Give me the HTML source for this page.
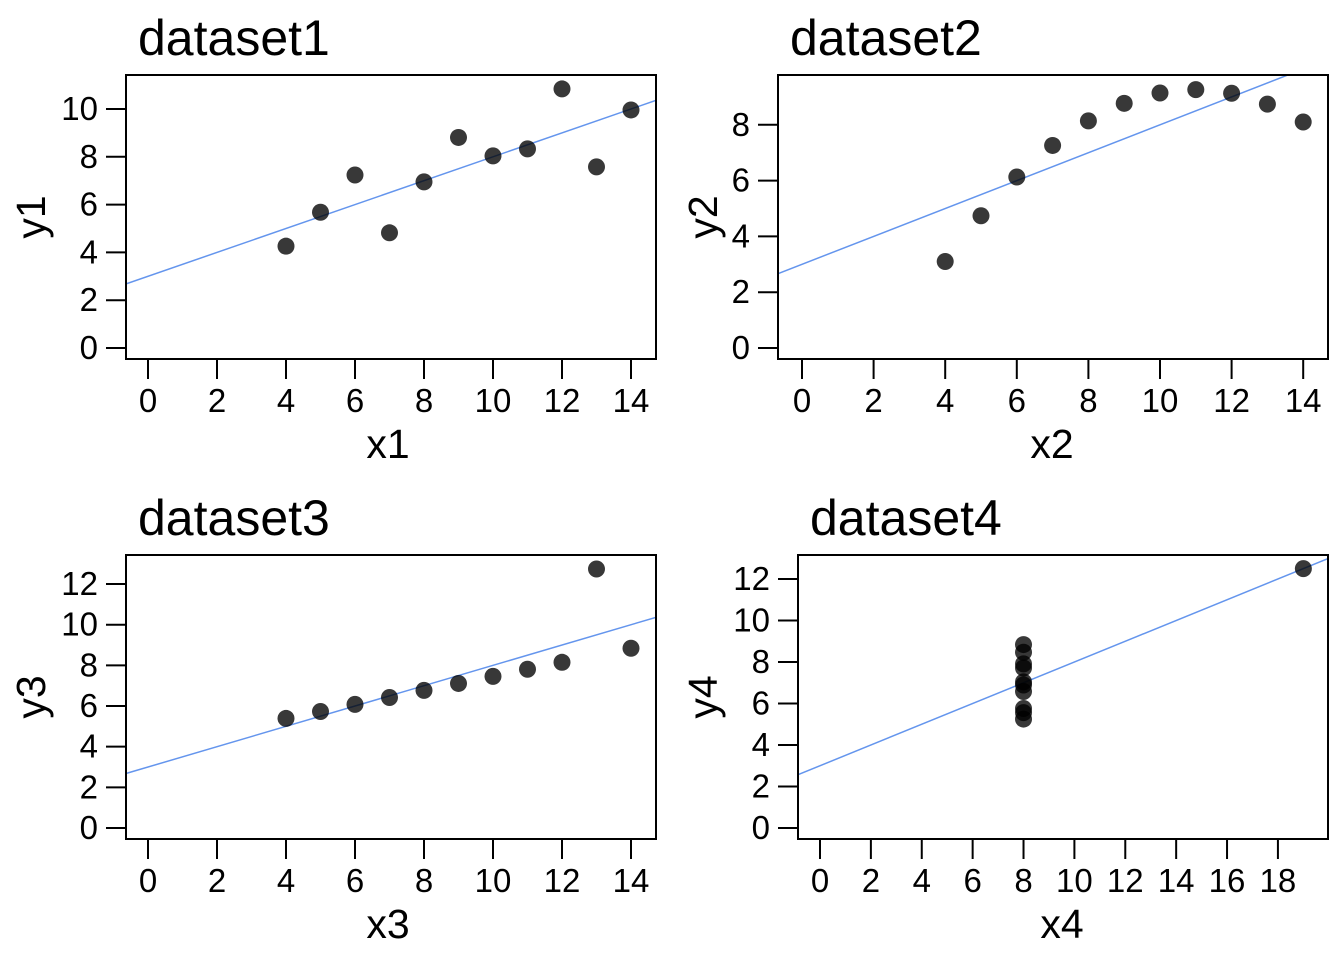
<!DOCTYPE html>
<html><head><meta charset="utf-8"><style>
body{margin:0;background:#fff;}
svg text{font-family:"Liberation Sans",Arial,sans-serif;fill:#000;}
</style></head><body>
<svg id="c" width="1344" height="960" xmlns="http://www.w3.org/2000/svg"></svg>
<script>
const xs123 = [10,8,13,9,11,14,6,4,12,7,5];
const y1 = [8.04,6.95,7.58,8.81,8.33,9.96,7.24,4.26,10.84,4.82,5.68];
const y2 = [9.14,8.14,8.74,8.77,9.26,8.10,6.13,3.10,9.13,7.26,4.74];
const y3 = [7.46,6.77,12.74,7.11,7.81,8.84,6.08,5.39,8.15,6.42,5.73];
const x4 = [8,8,8,8,8,8,8,19,8,8,8];
const y4 = [6.58,5.76,7.71,8.84,8.47,7.04,5.25,12.50,5.56,7.91,6.89];
const xticks14 = [0,2,4,6,8,10,12,14];
const xticks18 = [0,2,4,6,8,10,12,14,16,18];
const yticks10 = [0,2,4,6,8,10];
const yticks8 = [0,2,4,6,8];
const yticks12 = [0,2,4,6,8,10,12];
const fitA = 3.0, fitB = 0.5;

const svg = document.getElementById('c');
const NS = 'http://www.w3.org/2000/svg';
function mk(tag, attrs, parent){const e=document.createElementNS(NS,tag);for(const k in attrs)e.setAttribute(k,attrs[k]);(parent||svg).appendChild(e);return e;}

const panels = [
 {n:1,title:'dataset1',xl:'x1',yl:'y1',xs:xs123,ys:y1,xt:xticks14,yt:yticks10,box:[126,75,656,359],x0:148,xu:34.5,y0:348,yu:23.9,tx:138,lx:388,ly:45},
 {n:2,title:'dataset2',xl:'x2',yl:'y2',xs:xs123,ys:y2,xt:xticks14,yt:yticks8,box:[778,75,1328,359],x0:802,xu:35.8,y0:348,yu:27.9,tx:790,lx:1052,ly:717},
 {n:3,title:'dataset3',xl:'x3',yl:'y3',xs:xs123,ys:y3,xt:xticks14,yt:yticks12,box:[126,555,656,839],x0:148,xu:34.5,y0:828,yu:20.33,tx:138,lx:388,ly:45},
 {n:4,title:'dataset4',xl:'x4',yl:'y4',xs:x4,ys:y4,xt:xticks18,yt:yticks12,box:[798,555,1328,839],x0:820,xu:25.44,y0:828,yu:20.75,tx:810,lx:1062,ly:717}
];

panels.forEach(p=>{
  const g = mk('g',{});
  
  
  const [L,T,R,B]=p.box;
  const sx=v=>p.x0+v*p.xu, sy=v=>p.y0-v*p.yu;
  const t=mk('text',{x:p.tx,y:T-20,'font-size':50},g); t.textContent=p.title;
   
  const cid='clip'+p.n;
  const cp=mk('clipPath',{id:cid},g); mk('rect',{x:L,y:T,width:R-L,height:B-T},cp);
  const xa=(L-p.x0)/p.xu, xb=(R-p.x0)/p.xu;
  const ln=mk('line',{x1:L,y1:sy(fitA+fitB*xa),x2:R,y2:sy(fitA+fitB*xb),stroke:'#6495ED','stroke-width':1.5,'clip-path':'url(#'+cid+')'},g);
   
  p.xs.forEach((x,i)=>{
    const c=mk('circle',{cx:sx(x),cy:sy(p.ys[i]),r:8.5,fill:'#000','fill-opacity':0.78},g);
     
  });
  const bx=mk('rect',{x:L,y:T,width:R-L,height:B-T,fill:'none',stroke:'#000','stroke-width':2},g);
   
  p.xt.forEach(v=>{
    mk('line',{x1:sx(v),y1:B,x2:sx(v),y2:B+20,stroke:'#000','stroke-width':2},g);
    const tl=mk('text',{x:sx(v),y:412+(T-75),'font-size':33,'text-anchor':'middle'},g); tl.textContent=v;
     
  });
  p.yt.forEach(v=>{
    mk('line',{x1:L,y1:sy(v),x2:L-20,y2:sy(v),stroke:'#000','stroke-width':2},g);
    const tl=mk('text',{x:L-28,y:sy(v)+11,'font-size':33,'text-anchor':'end'},g); tl.textContent=v;
     
  });
  const xt=mk('text',{x:p.lx,y:458+(T-75),'font-size':41,'text-anchor':'middle'},g); xt.textContent=p.xl;
   
  const cy=(T+B)/2;
  const yt=mk('text',{x:0,y:0,'font-size':41,'text-anchor':'middle',transform:'translate('+p.ly+','+cy+') rotate(-90)'},g); yt.textContent=p.yl;
   
});
</script>
</body></html>
